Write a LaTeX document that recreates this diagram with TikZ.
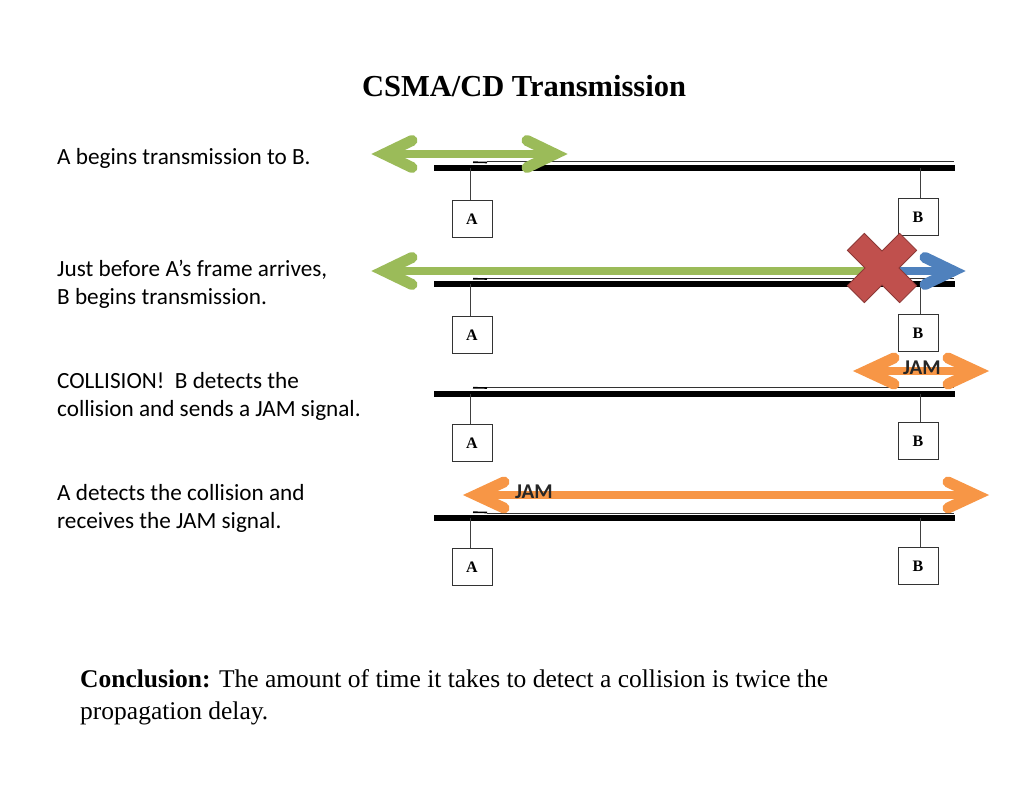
\documentclass[tikz,border=0pt]{standalone}
\usepackage{fontspec}
\setmainfont{Liberation Serif}
\newfontfamily\calib{Carlito}
\usetikzlibrary{calc}
\definecolor{agreen}{HTML}{9BBB59}
\definecolor{ablue}{HTML}{4F81BD}
\definecolor{aorange}{HTML}{F79646}
\definecolor{ared}{HTML}{C0504D}
\definecolor{aredline}{HTML}{8C3836}
\begin{document}
\begin{tikzpicture}[x=1pt,y=-1pt,
  bus/.style={line width=6pt},
  thinbus/.style={draw=black!80,line width=0.6pt,double=white,double distance=0.8pt},
  stub/.style={draw=black!75,line width=0.8pt},
  station/.style={draw=black!80,line width=0.8pt,fill=white,minimum width=40pt,minimum height=37pt,inner sep=0pt,font=\bfseries\fontsize{16}{16}\selectfont},
  lbl/.style={anchor=west,align=left,inner sep=0pt,font=\calib\fontsize{23.2}{28}\selectfont},
  shaft/.style={line width=8.5pt},
  head/.style={line width=11pt,line cap=round,line join=miter},
  jam/.style={font=\calib\bfseries\fontsize{21}{21}\selectfont,text=black!85,inner sep=0pt}
]
\useasboundingbox (0,0) rectangle (1024,791);

\node[font=\bfseries\fontsize{30.5}{30.5}\selectfont,inner sep=0pt] (title) at (524,86) {CSMA/CD Transmission};

% left labels
\node[lbl] (t1) at (57,158) {A begins transmission to B.};
\node[lbl] (t2) at (57,284) {Just before A’s frame arrives,\\B begins transmission.};
\node[lbl] (t3) at (57,396) {COLLISION!\ \ B detects the\\collision and sends a JAM signal.};
\node[lbl] (t4) at (57,508) {A detects the collision and\\receives the JAM signal.};

% four bus rows
\foreach \r/\y/\ay/\by in {1/168/219/217, 2/284.5/335/333, 3/393.5/443/441, 4/518/567/566}{
  \coordinate (bl\r) at (434,\y);
  \coordinate (br\r) at (955,\y);
  \coordinate (tl\r) at (487,\y-5.5);
  \coordinate (tr\r) at (954,\y-5.5);
  \coordinate (dl\r) at (473,\y-5.8);
  \draw[thinbus] (tl\r) -- (tr\r);
  \draw[line width=1.6pt] (dl\r) -- (tl\r);
  \draw[bus] (bl\r) -- (br\r);
  \node[station] (A\r) at (472,\ay) {A};
  \node[station] (B\r) at (918,\by) {B};
  \draw[stub] (470,\y) -- (A\r.north -| 470,\y);
  \draw[stub] (920,\y) -- (B\r.north -| 920,\y);
}

% row 1: green double arrow
\coordinate (g1l) at (384,154);
\coordinate (g1r) at (555,154);
\draw[agreen,shaft] ($(g1l)+(4,0)$) -- ($(g1r)+(-4,0)$);
\draw[agreen,head] ($(g1l)+(28,-13.5)$) -- (g1l) -- ($(g1l)+(28,13.5)$);
\draw[agreen,head] ($(g1r)+(-28,-13.5)$) -- (g1r) -- ($(g1r)+(-28,13.5)$);

% row 2: green arrow, blue arrow, red cross
\coordinate (g2l) at (384,271);
\coordinate (g2r) at (875,271);
\coordinate (b2l) at (890,271);
\coordinate (b2r) at (953,271);
\draw[agreen,shaft] ($(g2l)+(4,0)$) -- (g2r);
\draw[agreen,head] ($(g2l)+(28,-13.5)$) -- (g2l) -- ($(g2l)+(28,13.5)$);
\draw[ablue,shaft] (b2l) -- ($(b2r)+(-4,0)$);
\draw[ablue,head] ($(b2r)+(-28,-13.5)$) -- (b2r) -- ($(b2r)+(-28,13.5)$);
\coordinate (x2) at (882,268);
\filldraw[fill=ared,draw=aredline,line width=0.8pt,shift={(x2)},rotate=45]
  (-12,-37) -- (12,-37) -- (12,-12) -- (37,-12) -- (37,12) -- (12,12) -- (12,37) -- (-12,37) -- (-12,12) -- (-37,12) -- (-37,-12) -- (-12,-12) -- cycle;

% row 3: orange JAM arrow
\coordinate (o3l) at (866,371);
\coordinate (o3r) at (976,371);
\draw[aorange,shaft] ($(o3l)+(4,0)$) -- ($(o3r)+(-4,0)$);
\draw[aorange,head] ($(o3l)+(28,-13)$) -- (o3l) -- ($(o3l)+(28,13)$);
\draw[aorange,head] ($(o3r)+(-28,-13)$) -- (o3r) -- ($(o3r)+(-28,13)$);
\node[jam] (j3) at (922,368) {JAM};

% row 4: orange JAM arrow
\coordinate (o4l) at (476,495);
\coordinate (o4r) at (976,495);
\draw[aorange,shaft] ($(o4l)+(4,0)$) -- ($(o4r)+(-4,0)$);
\draw[aorange,head] ($(o4l)+(28,-13)$) -- (o4l) -- ($(o4l)+(28,13)$);
\draw[aorange,head] ($(o4r)+(-28,-13)$) -- (o4r) -- ($(o4r)+(-28,13)$);
\node[jam] (j4) at (534,492) {JAM};

% conclusion
\node[anchor=west,align=left,inner sep=0pt,font=\fontsize{25.5}{32}\selectfont] (concl) at (80,697)
  {\textbf{Conclusion:} The amount of time it takes to detect a collision is twice the\\propagation delay.};
\end{tikzpicture}
\end{document}
